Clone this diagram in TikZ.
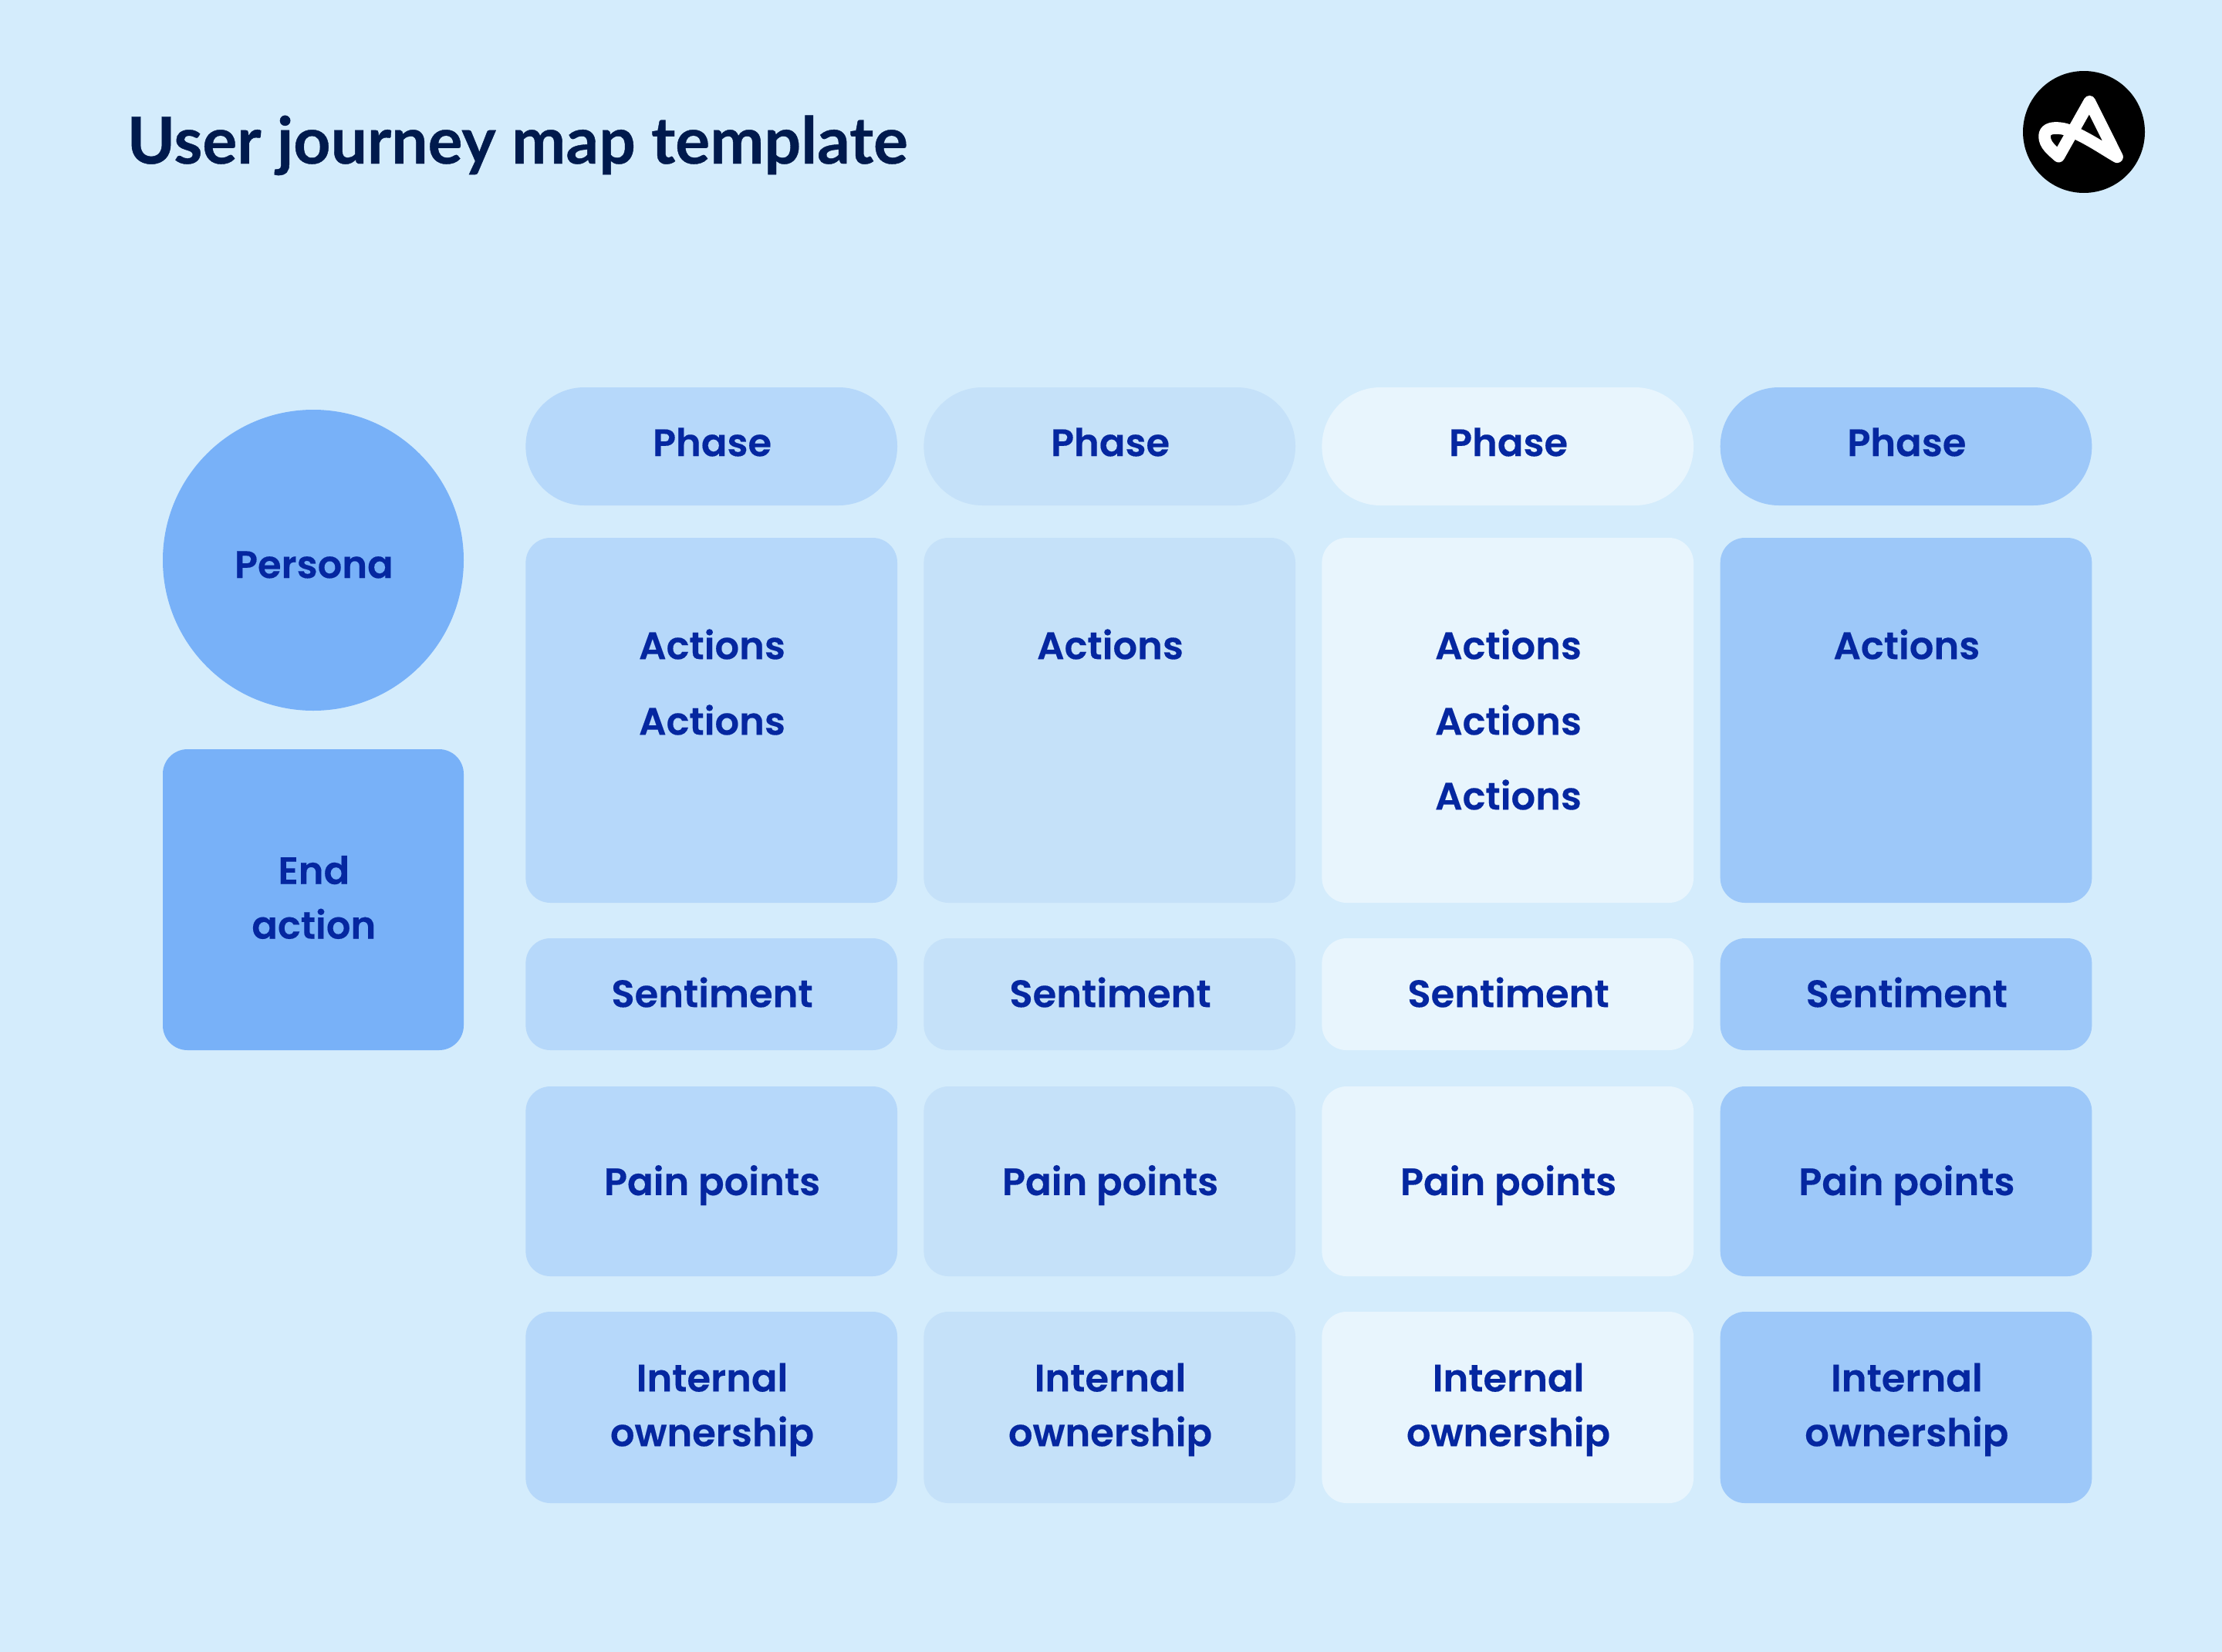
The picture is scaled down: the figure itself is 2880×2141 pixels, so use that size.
\documentclass[tikz,border=0pt]{standalone}
\usepackage{fontspec}
\setmainfont{Poppins}[BoldFont={Poppins SemiBold},BoldFeatures={FakeBold=0.25}]
\newfontfamily\titlefont{Lato}[BoldFeatures={FakeBold=0.5}]
\usepackage{tikz}
\definecolor{pagebg}{HTML}{D4ECFC}
\definecolor{colone}{HTML}{B6D8FA}
\definecolor{coltwo}{HTML}{C5E1F9}
\definecolor{colthree}{HTML}{E8F5FD}
\definecolor{colfour}{HTML}{9DC8F9}
\definecolor{personablue}{HTML}{78B1F8}
\definecolor{labelblue}{HTML}{0527A0}
\definecolor{titleblue}{HTML}{001A4D}
\tikzset{
	cell/.style={inner sep=0pt, minimum width=120.4pt, rounded corners=8pt},
	phasecell/.style={cell, minimum height=38.25pt, rounded corners=19pt},
	actioncell/.style={cell, minimum height=118.25pt},
	sentcell/.style={cell, minimum height=36.25pt},
	paincell/.style={cell, minimum height=61.5pt},
	owncell/.style={cell, minimum height=62pt},
	celltext/.style={text=labelblue, inner sep=0pt, align=center, xshift=0.2pt, font=\fontsize{12.4}{17.7}\selectfont\bfseries}
}
\begin{document}
\begin{tikzpicture}[x=0.25pt,y=-0.25pt]

	%Page size and background
	\fill[pagebg] (0,0) rectangle (2880,2141);
	\useasboundingbox (0,0) rectangle (2880,2141);

	%Define the column centres
	\pgfmathsetmacro{\ca}{922.2}
	\pgfmathsetmacro{\cb}{1438.2}
	\pgfmathsetmacro{\cc}{1954.2}
	\pgfmathsetmacro{\cd}{2470.5}

	%Define the row centres
	\pgfmathsetmacro{\rp}{578.5}
	\pgfmathsetmacro{\ra}{933.5}
	\pgfmathsetmacro{\rs}{1288.5}
	\pgfmathsetmacro{\rq}{1531}
	\pgfmathsetmacro{\ro}{1824}

	%Title and logo
	\node[anchor=base west, inner sep=0pt, text=titleblue, font=\fontsize{21}{25}\titlefont\bfseries] (title) at (164,212) {User journey map template};
	\fill[black] (2701,171) circle (79);
	\draw[white, line width=3.9pt, line cap=round, line join=round]
		(2744,203.3) -- (2708.3,131.7) -- (2668.3,202.7)
		.. controls (2660,195) and (2650,188) .. (2650,176.7)
		.. controls (2650,168) and (2658,165.5) .. (2667,166)
		.. controls (2677,166.5) and (2685,170) .. (2693.3,174)
		.. controls (2712,183) and (2728,194) .. (2744,203.3);

	%Persona and end action
	\node[circle, fill=personablue, minimum size=97.5pt, inner sep=0pt] (persona) at (406,726) {};
	\node[celltext] (personatext) at (406,732) {Persona};
	\node[fill=personablue, minimum size=97.5pt, inner sep=0pt, rounded corners=8pt] (endaction) at (406,1166) {};
	\node[celltext] (endtext) at (406,1163) {End\\action};

	%Phase row
	\node[phasecell, fill=colone] (phasea) at (\ca,\rp) {};
	\node[phasecell, fill=coltwo] (phaseb) at (\cb,\rp) {};
	\node[phasecell, fill=colthree] (phasec) at (\cc,\rp) {};
	\node[phasecell, fill=colfour] (phased) at (\cd,\rp) {};
	\node[celltext] (phasetexta) at (\ca,573) {Phase};
	\node[celltext] (phasetextb) at (\cb,573) {Phase};
	\node[celltext] (phasetextc) at (\cc,573) {Phase};
	\node[celltext] (phasetextd) at (\cd,573) {Phase};

	%Actions row
	\node[actioncell, fill=colone] (actiona) at (\ca,\ra) {};
	\node[actioncell, fill=coltwo] (actionb) at (\cb,\ra) {};
	\node[actioncell, fill=colthree] (actionc) at (\cc,\ra) {};
	\node[actioncell, fill=colfour] (actiond) at (\cd,\ra) {};
	\node[celltext] (actiontexta) at (\ca,835) {Actions};
	\node[celltext] (actiontextaa) at (\ca,933) {Actions};
	\node[celltext] (actiontextb) at (\cb,835) {Actions};
	\node[celltext] (actiontextc) at (\cc,835) {Actions};
	\node[celltext] (actiontextcc) at (\cc,933) {Actions};
	\node[celltext] (actiontextccc) at (\cc,1030) {Actions};
	\node[celltext] (actiontextd) at (\cd,835) {Actions};

	%Sentiment row
	\node[sentcell, fill=colone] (senta) at (\ca,\rs) {};
	\node[sentcell, fill=coltwo] (sentb) at (\cb,\rs) {};
	\node[sentcell, fill=colthree] (sentc) at (\cc,\rs) {};
	\node[sentcell, fill=colfour] (sentd) at (\cd,\rs) {};
	\node[celltext] (senttexta) at (\ca,1286) {Sentiment};
	\node[celltext] (senttextb) at (\cb,1286) {Sentiment};
	\node[celltext] (senttextc) at (\cc,1286) {Sentiment};
	\node[celltext] (senttextd) at (\cd,1286) {Sentiment};

	%Pain points row
	\node[paincell, fill=colone] (paina) at (\ca,\rq) {};
	\node[paincell, fill=coltwo] (painb) at (\cb,\rq) {};
	\node[paincell, fill=colthree] (painc) at (\cc,\rq) {};
	\node[paincell, fill=colfour] (paind) at (\cd,\rq) {};
	\node[celltext] (paintexta) at (\ca,1536) {Pain points};
	\node[celltext] (paintextb) at (\cb,1536) {Pain points};
	\node[celltext] (paintextc) at (\cc,1536) {Pain points};
	\node[celltext] (paintextd) at (\cd,1536) {Pain points};

	%Internal ownership row
	\node[owncell, fill=colone] (owna) at (\ca,\ro) {};
	\node[owncell, fill=coltwo] (ownb) at (\cb,\ro) {};
	\node[owncell, fill=colthree] (ownc) at (\cc,\ro) {};
	\node[owncell, fill=colfour] (ownd) at (\cd,\ro) {};
	\node[celltext] (owntexta) at (\ca,1827) {Internal\\ownership};
	\node[celltext] (owntextb) at (\cb,1827) {Internal\\ownership};
	\node[celltext] (owntextc) at (\cc,1827) {Internal\\ownership};
	\node[celltext] (owntextd) at (\cd,1827) {Internal\\ownership};

\end{tikzpicture}
\end{document}
